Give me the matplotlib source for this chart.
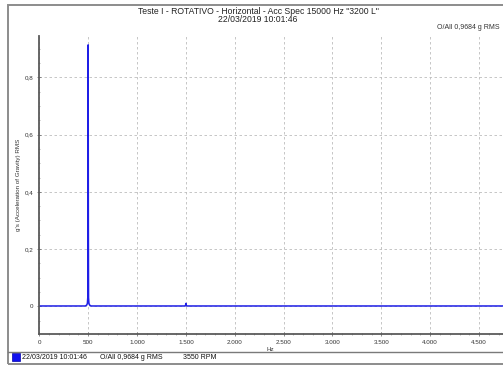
import matplotlib
matplotlib.use("Agg")
import matplotlib.pyplot as plt
from matplotlib.lines import Line2D
from matplotlib.patches import Rectangle
from matplotlib.ticker import FuncFormatter, MultipleLocator

plt.rcParams["font.family"] = ["Liberation Sans", "DejaVu Sans"]

# Espectro de aceleração (Hz x g RMS)
freq_hz = [0, 470, 485, 492, 496, 498, 500, 502, 504, 508, 515, 530,
           1490, 1497, 1500, 1503, 1510, 4745]
amp_g = [0.001, 0.001, 0.004, 0.010, 0.030, 0.300, 0.914, 0.300, 0.030,
         0.010, 0.004, 0.001, 0.001, 0.004, 0.010, 0.004, 0.001, 0.001]

title_lines = ['Teste I - ROTATIVO - Horizontal - Acc Spec 15000 Hz "3200 L"',
               "22/03/2019 10:01:46"]
overall_label = "O/All 0,9684 g RMS"
legend_items = ["22/03/2019 10:01:46", "O/All 0,9684 g RMS", "3550 RPM"]

W, H = 503, 365
fig = plt.figure(figsize=(W / 100, H / 100), dpi=100)
fig.patch.set_facecolor("white")


def fx(px):
    return px / W


def fy(py):
    return 1 - py / H


# Moldura externa e faixa da legenda
fig.patches.append(Rectangle((fx(8), fy(364)), 1.2, fy(5) - fy(364), transform=fig.transFigure,
                             fill=False, edgecolor="#8c8c8c", linewidth=1.4))
fig.lines.append(Line2D([fx(8), 1], [fy(352), fy(352)], transform=fig.transFigure,
                        color="#7a7a7a", linewidth=1.0))

ax = fig.add_axes([fx(39.3), fy(334), 1 - fx(39.3), fy(36) - fy(334)])
ax.plot(freq_hz, amp_g, color="#1f1fe6", linewidth=1.1)

ax.set_xlim(0, 4745)
ax.set_ylim(-0.097, 0.945)
ax.xaxis.set_major_locator(MultipleLocator(500))
ax.xaxis.set_minor_locator(MultipleLocator(100))
ax.yaxis.set_major_locator(MultipleLocator(0.2))
ax.yaxis.set_minor_locator(MultipleLocator(0.05))
ax.xaxis.set_major_formatter(FuncFormatter(lambda v, p: f"{int(v):,}".replace(",", ".")))
ax.yaxis.set_major_formatter(FuncFormatter(lambda v, p: "0" if abs(v) < 1e-9 else f"{v:.1f}".replace(".", ",")))

ax.grid(True, which="major", color="#bdbdbd", linestyle=(0, (3, 3)), linewidth=0.6)
ax.set_axisbelow(True)
for side in ["top", "right"]:
    ax.spines[side].set_visible(False)
for side in ["left", "bottom"]:
    ax.spines[side].set_color("#5a5a5a")
    ax.spines[side].set_linewidth(1.3)

ax.tick_params(which="major", length=3, width=0.6, color="#777777", direction="inout",
               labelsize=4.5, pad=3, labelcolor="#333333")
ax.tick_params(which="minor", length=2, width=0.5, color="#999999", direction="inout")

ax.set_xlabel("Hz", fontsize=4.5, color="#333333")
ax.xaxis.set_label_coords((270 - 39.3) / (W - 39.3), -(347 - 334) / (334 - 36))
ax.set_ylabel("g's (Acceleration of Gravity) RMS", fontsize=4.5, color="#333333")
ax.yaxis.set_label_coords(-(39.3 - 21) / (W - 39.3), 0.5)

fig.text(fx(258), fy(11), title_lines[0], ha="center", va="center", fontsize=6.2, color="#222222")
fig.text(fx(258), fy(19.5), title_lines[1], ha="center", va="center", fontsize=6.2, color="#222222")
fig.text(fx(500), fy(27.5), overall_label, ha="right", va="center", fontsize=5, color="#333333")

# Legenda inferior
fig.patches.append(Rectangle((fx(11.7), fy(361)), fx(8), fy(353) - fy(361), transform=fig.transFigure,
                             facecolor="#1010ee", edgecolor="#0000aa", linewidth=0.5))
for x_px, txt in zip([22, 100, 183], legend_items):
    fig.text(fx(x_px), fy(357.5), txt, ha="left", va="center", fontsize=5, color="#111111")

fig.savefig("out.png", dpi=100)
